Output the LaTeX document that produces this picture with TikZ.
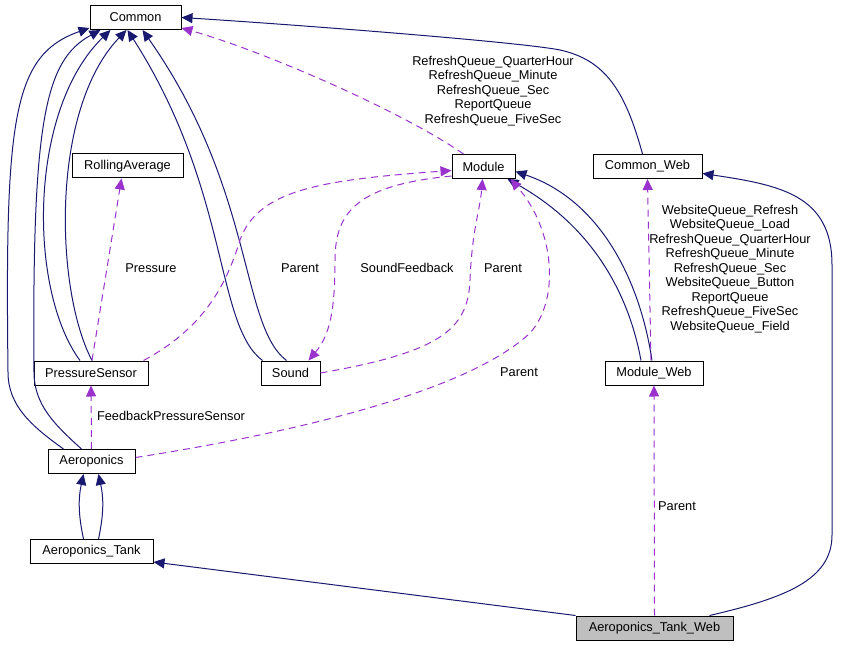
\documentclass[tikz,border=0pt]{standalone}
\usepackage{fontspec}
\setmainfont{Liberation Sans}
\usetikzlibrary{arrows.meta}
\definecolor{navy}{RGB}{25,25,112}
\definecolor{orchid}{RGB}{154,50,205}
\definecolor{boxgray}{RGB}{191,191,191}

\begin{document}
\begin{tikzpicture}[x=1pt,y=-1pt,>={Triangle[length=11pt,width=10pt]},
    every node/.style={font=\fontsize{12.8}{14.5}\selectfont},
    cls/.style={draw,fill=white,line width=1pt,minimum height=24pt,inner sep=0pt},
    inh/.style={navy,line width=1pt},
    use/.style={orchid,line width=1pt,dash pattern=on 7pt off 5pt},
    lbl/.style={align=center,inner sep=0pt}]
  \useasboundingbox (0,0) rectangle (846,647);

  % classes
  \node[cls,minimum width=91pt] (Common) at (135.5,17.5) {Common};
  \node[cls,minimum width=111pt] (RollAvg) at (127.5,166) {RollingAverage};
  \node[cls,minimum width=63pt] (Module) at (483.5,166.5) {Module};
  \node[cls,minimum width=109pt] (CommonWeb) at (647.5,166.5) {Common\_Web};
  \node[cls,minimum width=114pt] (PSensor) at (91,373) {PressureSensor};
  \node[cls,minimum width=59pt] (Sound) at (290.5,373) {Sound};
  \node[cls,minimum width=98pt] (ModuleWeb) at (654,373) {Module\_Web};
  \node[cls,minimum width=87pt] (Aero) at (91.5,461.5) {Aeroponics};
  \node[cls,minimum width=123pt] (Tank) at (91.5,551.5) {Aeroponics\_Tank};
  \node[cls,minimum width=157pt,fill=boxgray] (TankWeb) at (654.5,628) {Aeroponics\_Tank\_Web};

  % labels
  \node[lbl] (lQueues) at (493,91) {RefreshQueue\_QuarterHour\\RefreshQueue\_Minute\\RefreshQueue\_Sec\\ReportQueue\\RefreshQueue\_FiveSec};
  \node[lbl] (lWebQueues) at (730,269) {WebsiteQueue\_Refresh\\WebsiteQueue\_Load\\RefreshQueue\_QuarterHour\\RefreshQueue\_Minute\\RefreshQueue\_Sec\\WebsiteQueue\_Button\\ReportQueue\\RefreshQueue\_FiveSec\\WebsiteQueue\_Field};
  \node[lbl] (lPressure) at (151,268) {Pressure};
  \node[lbl] (lParentPS) at (300,268) {Parent};
  \node[lbl] (lFeedback) at (407,268) {SoundFeedback};
  \node[lbl] (lParentSound) at (503,268) {Parent};
  \node[lbl] (lParentAero) at (519,372) {Parent};
  \node[lbl] (lFbSensor) at (171,416) {FeedbackPressureSensor};
  \node[lbl] (lParentWeb) at (677,506) {Parent};

  % inheritance
  \draw[inh,->] ([xshift=-28pt]Aero.north) .. controls (30,425) and (8,405) .. (8,372)
    .. controls (5,120) and (12,55) .. ([yshift=2pt]Common.south west);
  \draw[inh,->] ([xshift=-10pt]Aero.north) .. controls (55,425) and (34,405) .. (34,372)
    .. controls (32,120) and (45,60) .. ([xshift=11pt]Common.south west);
  \draw[inh,->] ([xshift=-11pt]PSensor.north) .. controls (28,290) and (28,110) .. ([xshift=21pt]Common.south west);
  \draw[inh,->] ([xshift=1pt]PSensor.north) .. controls (55,290) and (50,110) .. ([xshift=37pt]Common.south west);
  \draw[inh,->] ([xshift=2pt]Sound.north west) .. controls (215,325) and (230,190) .. ([xshift=38pt]Common.south west);
  \draw[inh,->] ([xshift=-4pt]Sound.north) .. controls (240,325) and (255,190) .. ([xshift=53pt]Common.south west);
  \draw[inh,->] ([xshift=-5pt]CommonWeb.north) .. controls (625,90) and (605,60) .. (560,50)
    .. controls (520,42) and (300,25) .. (Common.east);
  \draw[inh,->] ([xshift=-2pt]ModuleWeb.north) .. controls (640,280) and (600,200) .. ([yshift=-5pt]Module.east);
  \draw[inh,->] ([xshift=-13pt]ModuleWeb.north) .. controls (628,290) and (590,225) .. ([xshift=-8pt]Module.south east);
  \draw[inh,->] ([xshift=55pt]TankWeb.north) .. controls (785,598) and (832,580) .. (832,535)
    -- (832,265) .. controls (832,195) and (780,185) .. ([yshift=-7pt]CommonWeb.east);
  \draw[inh,->] (TankWeb.north west) -- ([yshift=2pt]Tank.south east);
  \path[inh,->] ([xshift=-8pt]Tank.north) edge[bend left=12] ([xshift=-8pt]Aero.south)
    ([xshift=7pt]Tank.north) edge[bend right=12] ([xshift=7pt]Aero.south);

  % usage
  \draw[use,->] ([xshift=12pt]Module.north west) .. controls (400,110) and (260,50) .. ([yshift=2pt]Common.south east);
  \draw[use,->] ([xshift=-3pt]ModuleWeb.north) -- (CommonWeb.south);
  \draw[use,->] (TankWeb.north) -- (ModuleWeb.south);
  \draw[use,->] (Aero.north) -- (PSensor.south);
  \draw[use,->] ([xshift=1pt]PSensor.north) -- ([xshift=-6pt]RollAvg.south);
  \draw[use,->] ([xshift=-5pt]PSensor.north east) .. controls (200,330) and (225,290) .. (240,240)
    .. controls (258,190) and (320,180) .. ([yshift=-4pt]Module.west);
  \draw[use,->] ([yshift=3pt]Module.south west) .. controls (360,185) and (335,210) .. (335,260)
    .. controls (335,310) and (330,335) .. ([xshift=-12pt]Sound.north east);
  \draw[use,->] (Sound.east) .. controls (440,352) and (468,330) .. (470,280)
    .. controls (472,230) and (480,210) .. ([xshift=-1pt]Module.south);
  \draw[use,->] ([yshift=4pt]Aero.east) .. controls (300,432) and (470,390) .. (530,333)
    .. controls (560,300) and (555,230) .. ([xshift=27pt]Module.south);
\end{tikzpicture}
\end{document}
